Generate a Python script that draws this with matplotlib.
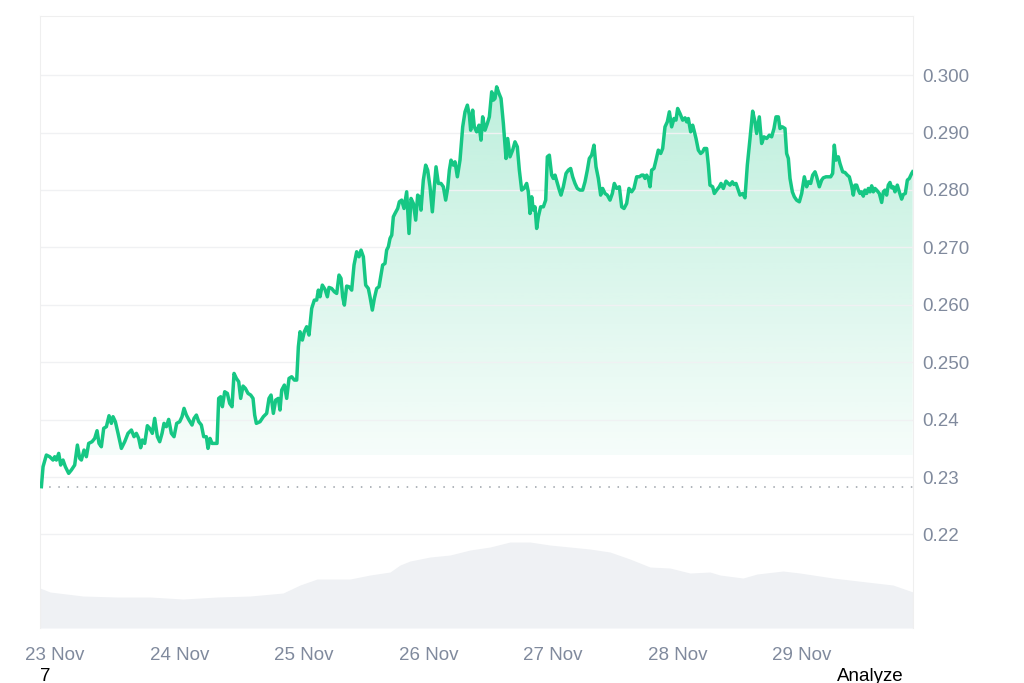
import numpy as np
import pandas as pd
import matplotlib
matplotlib.use("Agg")
import matplotlib.pyplot as plt
import matplotlib.dates as mdates
from matplotlib.patches import PathPatch

plt.rcParams["font.family"] = ["Liberation Sans", "DejaVu Sans"]

# Price series: hours after 23 Nov 00:00 and price (USD)
hours = [
    -2.63, -2.31, -1.67, -1.03, -0.39, -0.06, 0.26, 0.71, 1.09, 1.54, 1.99, 2.63, 3.15, 3.79,
    4.31, 4.76, 5.08, 5.59, 6.04, 6.49, 7.13, 7.65, 8.10, 8.48, 8.93, 9.38, 9.90, 10.41,
    10.86, 11.18, 11.63, 12.15, 12.79, 13.43, 14.07, 14.72, 15.23, 15.68, 16.13, 16.51,
    16.84, 17.29, 17.80, 18.25, 18.76, 19.21, 19.73, 20.18, 20.63, 21.01, 21.46, 21.91,
    22.43, 22.94, 23.45, 24.03, 24.48, 24.87, 25.32, 25.83, 26.41, 26.80, 27.25, 27.70,
    28.21, 28.66, 29.17, 29.49, 29.88, 30.27, 30.78, 31.23, 31.55, 31.94, 32.26, 32.71,
    33.22, 33.67, 34.12, 34.51, 34.96, 35.41, 35.79, 36.24, 36.69, 37.21, 37.72, 38.17,
    38.49, 38.81,
    39.52, 40.16, 40.80, 41.25, 41.64, 42.09, 42.54, 43.05, 43.37, 43.70, 44.21, 44.66,
    45.11, 45.62, 46.14, 46.59, 46.91, 47.23, 47.68, 48.06, 48.51, 48.96, 49.48, 49.99,
    50.44, 50.76, 51.08, 51.53, 52.05, 52.50, 52.82, 53.33, 53.85, 54.30, 54.75, 55.13,
    55.45, 55.78, 56.22, 56.67, 57.19, 57.64, 58.15, 58.60, 58.99, 59.44, 59.89, 60.40,
    60.72, 61.17, 61.56, 62.01, 62.46, 62.84, 63.16, 63.61, 63.93, 64.26, 64.58, 64.91,
    65.22, 65.54, 66.06, 66.38, 66.83, 67.28, 67.79, 68.24, 68.63, 69.08, 69.53, 69.91,
    70.23, 70.55, 71.00, 71.45, 71.84, 72.29, 72.74, 73.12, 73.45, 73.90, 74.41, 74.86,
    75.31, 75.69, 76.02, 76.34, 76.79, 77.11,
    77.56, 78.07, 78.59, 79.04, 79.49, 79.87, 80.13, 80.51, 80.83, 81.28, 81.73, 82.12,
    82.44, 82.89, 83.34, 83.73, 84.18, 84.50, 84.82, 85.14, 85.59, 85.98, 86.43, 86.94,
    87.26, 87.71, 88.22, 88.67, 89.12, 89.51, 89.96, 90.41, 90.92, 91.24, 91.57, 91.89,
    92.21, 92.53, 92.85, 93.17, 93.62, 94.14, 94.59, 94.91, 95.29, 95.74, 96.06, 96.39,
    96.84, 97.22, 97.54, 97.99, 98.51, 98.96, 99.40, 99.79, 100.24, 100.69, 101.20, 101.72,
    102.17, 102.62, 103.00, 103.45, 103.90, 104.29, 104.74, 105.19, 105.57, 106.02, 106.47,
    106.99, 107.44, 107.82, 108.27, 108.79, 109.24, 109.69, 110.20, 110.65, 111.16, 111.61,
    112.13, 112.64, 113.09, 113.41, 113.74, 114.06, 114.38, 114.70, 115.02, 115.47, 115.86,
    116.30, 116.76, 117.14, 117.59, 118.04, 118.43, 118.87, 119.33, 119.71, 120.03, 120.48,
    121.00, 121.45, 121.77, 122.09, 122.54, 122.92, 123.18, 123.57, 124.02, 124.47, 124.85,
    125.17, 125.62, 125.95, 126.26, 126.78, 127.10, 127.55, 128.06, 128.39, 128.84, 129.35,
    129.80, 130.12, 130.57, 130.89, 131.28, 131.73, 132.05, 132.56, 133.01, 133.46, 133.98,
    134.49, 134.94, 135.26, 135.77, 136.22, 136.67, 137.19, 137.70, 138.15, 138.60, 138.99,
    139.44, 139.76, 140.21, 140.72, 141.04, 141.37, 141.69, 142.14, 142.52, 142.97, 143.49,
    143.94, 144.45, 144.90, 145.22, 145.67, 146.06, 146.51, 146.83, 147.34, 147.79, 148.11,
    148.63, 149.08, 149.53, 149.91, 150.23, 150.55, 151.00, 151.32, 151.84, 152.29, 152.74,
    153.12, 153.57, 153.89, 154.22, 154.54, 154.86, 155.18, 155.50, 155.82, 156.14, 156.47,
    156.79, 157.11, 157.43, 157.75, 158.07, 158.39, 158.91, 159.36, 159.68, 160.00, 160.32,
    160.64, 160.96, 161.29, 161.61, 161.93, 162.38, 162.76, 163.21, 163.53, 163.92, 164.31,
    164.69, 165.14, 165.33,
]
price = [
    0.22832, 0.23180, 0.23383, 0.23354, 0.23296, 0.23354, 0.23296, 0.23412, 0.23209, 0.23296,
    0.23180, 0.23064, 0.23122, 0.23209, 0.23557, 0.23325, 0.23296, 0.23470, 0.23354, 0.23586,
    0.23615, 0.23673, 0.23807, 0.23586, 0.23528, 0.23848, 0.23877, 0.24068, 0.23935, 0.24051,
    0.23964, 0.23761, 0.23499, 0.23615, 0.23761, 0.23819, 0.23703, 0.23761, 0.23673, 0.23511,
    0.23645, 0.23586, 0.23894, 0.23848, 0.23761, 0.24022, 0.23703, 0.23615, 0.23761, 0.23935,
    0.23877, 0.24004, 0.23761, 0.23703, 0.23935, 0.23964, 0.24051, 0.24196, 0.24080, 0.23993,
    0.23906, 0.24022, 0.24080, 0.23964, 0.23906, 0.23703, 0.23703, 0.23499, 0.23673, 0.23586,
    0.23586, 0.23586, 0.24370, 0.24399, 0.24225, 0.24486, 0.24457, 0.24283, 0.24225, 0.24805,
    0.24718, 0.24660, 0.24370, 0.24585, 0.24544, 0.24457, 0.24428, 0.24370, 0.24080, 0.23935,
    0.23964, 0.24051, 0.24109, 0.24370, 0.24428, 0.24109, 0.24341, 0.24370, 0.24167, 0.24515,
    0.24602, 0.24370, 0.24718, 0.24747, 0.24689, 0.24689, 0.25270, 0.25531, 0.25386, 0.25531,
    0.25618, 0.25473, 0.25937, 0.26082, 0.26082, 0.26256, 0.26140, 0.26343, 0.26268, 0.26140,
    0.26303, 0.26285, 0.26227, 0.26198, 0.26518, 0.26460, 0.26140, 0.25995, 0.26326, 0.26315,
    0.26256, 0.26692, 0.26924, 0.26837, 0.26953, 0.26837, 0.26343, 0.26285, 0.26140, 0.25908,
    0.26111, 0.26285, 0.26315, 0.26518, 0.26692, 0.26721, 0.26953, 0.27011, 0.27156, 0.27214,
    0.27533, 0.27591, 0.27678, 0.27795, 0.27824, 0.27678, 0.27969, 0.27243, 0.27853, 0.27765,
    0.27475, 0.27911, 0.27882, 0.27649, 0.28172, 0.28433, 0.28346, 0.28056, 0.27620, 0.28056,
    0.28404, 0.28114, 0.28114, 0.28056, 0.27824, 0.28027, 0.28346, 0.28520, 0.28433, 0.28491,
    0.28230, 0.28520, 0.29100, 0.29362, 0.29478, 0.29304, 0.29042, 0.29391, 0.29100, 0.29013,
    0.29129, 0.28868, 0.29275, 0.29042, 0.29158, 0.29275, 0.29710, 0.29565, 0.29594, 0.29797,
    0.29681, 0.29594, 0.29158, 0.28549, 0.28897, 0.28578, 0.28694, 0.28839, 0.28752, 0.28346,
    0.27998, 0.28027, 0.28114, 0.27969, 0.27591, 0.27882, 0.27649, 0.27707, 0.27330, 0.27533,
    0.27707, 0.27707, 0.27824, 0.28578, 0.28607, 0.28259, 0.28201, 0.28259, 0.28114, 0.27998,
    0.27911, 0.28056, 0.28288, 0.28346, 0.28375, 0.28230, 0.28114, 0.28027, 0.27998, 0.27998,
    0.28143, 0.28346, 0.28549, 0.28607, 0.28781, 0.28404, 0.28201, 0.27911, 0.28027, 0.27940,
    0.27911, 0.27824, 0.27940, 0.28114, 0.28027, 0.28056, 0.27707, 0.27678, 0.27765, 0.28027,
    0.27969, 0.28027, 0.28230, 0.28230, 0.28259, 0.28259, 0.28201, 0.28259, 0.28201, 0.28056,
    0.28346, 0.28375, 0.28520, 0.28694, 0.28636, 0.28723, 0.29100, 0.29188, 0.29362, 0.29100,
    0.29246, 0.29217, 0.29420, 0.29333,
    0.29216, 0.29257, 0.29187, 0.29245, 0.29013, 0.29129, 0.29042, 0.28897, 0.28694, 0.28636,
    0.28665, 0.28723, 0.28723, 0.28433, 0.28085, 0.28056, 0.27940, 0.27998, 0.28056, 0.28114,
    0.28027, 0.28154, 0.28114, 0.28085, 0.28143, 0.28096, 0.28114, 0.27998, 0.27911, 0.27940,
    0.27864, 0.28433, 0.28897, 0.29373, 0.29187, 0.28984, 0.29274, 0.28810, 0.28926, 0.28897,
    0.28955, 0.28926, 0.29071, 0.29274, 0.29274, 0.29071, 0.29100, 0.29071, 0.28636, 0.28549,
    0.28201, 0.27968, 0.27882, 0.27823, 0.27794, 0.27940, 0.28230, 0.28056, 0.28143, 0.28114,
    0.28259, 0.28317, 0.28230, 0.28056, 0.28172, 0.28212, 0.28230, 0.28230, 0.28230, 0.28288,
    0.28781, 0.28520, 0.28578, 0.28462, 0.28317, 0.28305, 0.28259, 0.28230, 0.28073, 0.27911,
    0.28085, 0.28085, 0.27998, 0.27940, 0.27968, 0.27893, 0.27998, 0.27940, 0.28027, 0.27968,
    0.28073, 0.27968, 0.28027, 0.27998, 0.27940, 0.27783, 0.27968, 0.27998, 0.27911, 0.28085,
    0.28131, 0.28038, 0.28056, 0.27968, 0.28085, 0.27968, 0.27841, 0.27922, 0.27940, 0.28172,
    0.28201, 0.28288, 0.28317,
]

# Trading volume (arbitrary units) at hours after 23 Nov 00:00
vol_hours = [-2.89, -0.96, 5.40, 11.95, 18.31, 24.67, 31.23, 37.59, 43.95, 47.23, 50.51,
             53.01, 56.87, 60.72, 64.58, 66.51, 68.43, 72.29, 76.14, 80.00, 83.85, 87.71,
             91.57, 95.42, 99.28, 103.13, 106.99, 110.84, 114.70, 118.55, 122.41, 126.26,
             128.19, 132.63, 135.33, 140.34, 143.61, 149.98, 156.53, 161.54, 165.40]
volume = [40, 36, 32, 31, 31, 29, 31, 32, 35, 43, 49, 49, 49, 53, 56, 63, 67, 71, 73, 78,
          81, 86, 86, 83, 81, 79, 76, 69, 61, 60, 55, 56, 53, 50, 54, 57, 55, 50, 46, 43, 36]

y_ticks = [0.22, 0.23, 0.24, 0.25, 0.26, 0.27, 0.28, 0.29, 0.30]
y_labels = ["0.22", "0.23", "0.24", "0.250", "0.260", "0.270", "0.280", "0.290", "0.300"]

start = pd.Timestamp("2024-11-23")
t = start + pd.to_timedelta(hours, unit="h")
vt = start + pd.to_timedelta(vol_hours, unit="h")
t_num = mdates.date2num(t)
x0 = mdates.date2num(start - pd.Timedelta(hours=2.89))
x1 = mdates.date2num(start + pd.Timedelta(hours=165.4))

green = "#16c784"
label_col = "#808a9d"
fill_floor = 0.2338
open_price = price[0]

fig = plt.figure(figsize=(10.24, 6.83), dpi=100)
ax = fig.add_axes([0.0391, 0.0805, 0.8525, 0.896])
vax = ax.twinx()

# volume behind everything
vax.fill_between(vt, volume, 0, color="#eff1f4", lw=0)
vax.set_ylim(0, 612)
vax.set_yticks([])
for s in vax.spines.values():
    s.set_visible(False)
ax.set_zorder(vax.get_zorder() + 1)
ax.patch.set_visible(False)

# gradient fill under the price line
poly = ax.fill_between(t_num, price, fill_floor, color="none", lw=0)
clip = PathPatch(poly.get_paths()[0], facecolor="none", edgecolor="none", transform=ax.transData)
ax.add_patch(clip)
grad = np.zeros((256, 1, 4))
grad[:, 0, 0] = 22 / 255
grad[:, 0, 1] = 199 / 255
grad[:, 0, 2] = 132 / 255
grad[:, 0, 3] = np.linspace(0.04, 0.28, 256)
im = ax.imshow(grad, extent=[t_num[0], t_num[-1], fill_floor, max(price)],
               origin="lower", aspect="auto", zorder=1)
im.set_clip_path(clip)

ax.plot(t_num, price, color=green, lw=2.5, zorder=3, solid_joinstyle="round")
ax.axhline(open_price, color="#9aa0a8", lw=1.1, ls=(0, (1, 5)), zorder=2)

ax.set_xlim(x0, x1)
ax.set_ylim(0.2037, 0.3103)
vax.set_xlim(x0, x1)

ax.xaxis.set_major_locator(mdates.DayLocator())
ax.xaxis.set_major_formatter(mdates.DateFormatter("%d %b"))
ax.yaxis.tick_right()
ax.set_yticks(y_ticks)
ax.set_yticklabels(y_labels)
ax.tick_params(axis="y", length=0, pad=7, labelsize=13.5, labelcolor=label_col)
ax.tick_params(axis="x", length=0, pad=14, labelsize=13.5, labelcolor=label_col)
ax.grid(axis="y", color="#f0f1f3", lw=1, zorder=0)
for side in ["left", "top", "right"]:
    ax.spines[side].set_color("#efefef")
ax.spines["bottom"].set_visible(False)

fig.text(0.044, 0.01, "7", fontsize=13.5, color="black", ha="center", va="center")
fig.text(0.85, 0.01, "Analyze", fontsize=13.5, color="black", ha="center", va="center")

fig.savefig("out.png", dpi=100)
